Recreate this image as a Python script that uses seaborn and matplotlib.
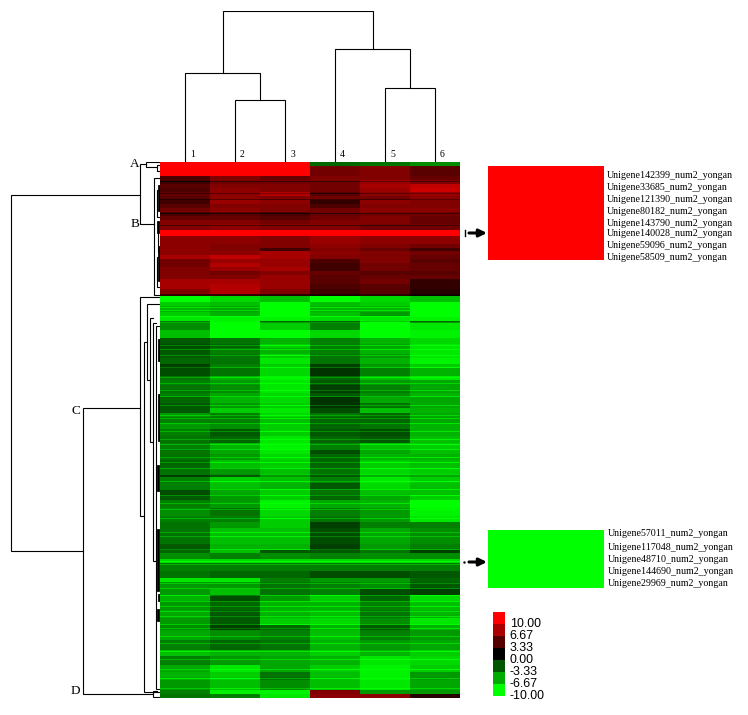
import matplotlib
matplotlib.use("Agg")
import matplotlib.pyplot as plt
import numpy as np
import seaborn as sns

# band = (number of gene rows, values for samples 1-6)
cluster_a = [
    (4, [10, 10, 10, -4, -4.5, -5.5]),
    (10, [10, 10, 10, 4.5, 5, 3.5]),
]
cluster_b = [
    (4, [3, 5, 4, 5, 5, 4]),
    (4, [2.5, 4.5, 4.5, 4.5, 6, 5]),
    (4, [3.5, 5, 5, 4.5, 6.5, 7.5]),
    (4, [3, 5.5, 5, 4.5, 6, 8]),
    (4, [4, 5.5, 7, 3.5, 5.5, 6]),
    (4, [3.5, 5.5, 5, 4.5, 4.5, 5.5]),
    (4, [2.5, 6, 5.5, 2, 5.5, 5]),
    (4, [3.5, 5, 5, 3, 5, 5]),
    (4, [4.5, 5.5, 5, 4.5, 5.5, 5.5]),
    (4, [3, 3.5, 3, 4, 4.5, 4.5]),
    (4, [4, 4, 3.5, 4.5, 5, 4]),
    (4, [5, 5, 4.5, 5, 5, 4]),
    (6, [5, 5.5, 5, 5, 4.5, 4.5]),
    (6, [10, 10, 10, 10, 10, 10]),
    (8, [5.5, 5.5, 5, 6, 5.5, 5.5]),
    (4, [5.5, 5, 5, 5.5, 5, 4.5]),
    (3, [5.5, 5, 2.5, 5, 4, 2.5]),
    (4, [5.5, 5.5, 6.5, 5.5, 5, 4.5]),
    (4, [6.5, 7.5, 6.5, 5, 5, 4]),
    (4, [4.5, 6, 6, 3, 5, 3.5]),
    (4, [4.5, 7, 6, 2.5, 4.5, 4]),
    (4, [5, 6, 6.5, 2.5, 4.5, 4]),
    (4, [5, 4.5, 5, 4, 3.5, 3.5]),
    (4, [5, 5, 6, 3.5, 4, 4]),
    (5, [6.5, 6.5, 6, 3.5, 4.5, 2]),
    (5, [6.5, 7, 6, 3, 3.5, 2]),
    (5, [5, 7, 5, 2.5, 3.5, 1.5]),
    (2, [2, 2, 1.5, 1, 1.5, 0.5]),
]
cluster_c = [
    (6, [-10, -8.5, -7.5, -10, -8.5, -7.5]),
    (4, [-8, -7.5, -10, -7.5, -8, -10]),
    (6, [-7, -6.5, -10, -7, -7, -10]),
    (4, [-8, -7, -10, -7.5, -6, -10]),
    (5, [-9, -9.5, -9.5, -8.5, -9, -9.5]),
    (2, [-5, -9.5, -4, -4, -8, -4]),
    (7, [-5.5, -10, -8, -5, -10, -9]),
    (8, [-7.5, -10, -10, -8.5, -10, -9.5]),
    (6, [-3.5, -4.5, -7, -5, -7, -8.5]),
    (4, [-3, -4, -8, -5, -6.5, -9]),
    (6, [-3.5, -5, -7, -5, -7, -9]),
    (4, [-3.5, -4.5, -8, -4.5, -6, -9]),
    (6, [-4, -4.5, -9, -4.5, -7, -9.5]),
    (4, [-2.5, -5, -8, -2.5, -6, -8]),
    (8, [-3, -4.5, -8.5, -2, -5, -7]),
    (4, [-4.5, -7, -9.5, -4, -7.5, -9]),
    (5, [-5, -6, -9, -3.5, -6, -6.5]),
    (8, [-4.5, -5.5, -9, -2.5, -5, -6.5]),
    (4, [-5, -6.5, -8.5, -3.5, -5.5, -7]),
    (6, [-4, -7, -8.5, -2, -6.5, -6.5]),
    (5, [-3.5, -6, -8, -2, -4.5, -6.5]),
    (5, [-3.5, -8, -9, -3, -7.5, -7]),
    (4, [-6, -5, -8.5, -4.5, -4, -6.5]),
    (6, [-5, -5, -7.5, -4, -4, -6.5]),
    (6, [-6, -5.5, -8, -4, -4.5, -7]),
    (6, [-5, -3.5, -8, -3.5, -3, -7]),
    (7, [-4.5, -4, -9, -4, -3.5, -7.5]),
    (6, [-5, -7, -9.5, -5, -7.5, -8]),
    (5, [-4.5, -6.5, -9, -3, -6.5, -7.5]),
    (6, [-4.5, -6, -8.5, -4, -7, -7]),
    (8, [-4, -7.5, -8, -4, -8, -7.5]),
    (6, [-4.5, -6, -7.5, -4.5, -8.5, -8]),
    (3, [-2.5, -3.5, -6, -3.5, -7, -6.5]),
    (6, [-5, -8, -7.5, -5, -9, -8]),
    (6, [-5, -7.5, -7, -3.5, -8.5, -7.5]),
    (6, [-3, -6.5, -8, -4.5, -7.5, -7.5]),
    (5, [-3.5, -6, -8, -4, -6.5, -8]),
    (8, [-5, -6, -9.5, -6.5, -7, -10]),
    (8, [-5.5, -4.5, -8.5, -5, -6, -9.5]),
    (6, [-5, -5, -8, -4.5, -6, -9]),
    (6, [-4.5, -6, -8, -2.5, -5, -5]),
    (16, [-4.5, -7.5, -7.5, -3, -6.5, -5.5]),
    (6, [-3.5, -7, -7, -2.5, -6, -5]),
    (3, [-4, -7.5, -3.5, -3.5, -4.5, -2.5]),
    (6, [-5.5, -5, -5.5, -5, -5.5, -5.5]),
    (4, [-8.5, -8.5, -8.5, -8.5, -8.5, -8.5]),
    (8, [-5, -5, -5, -5, -5, -5]),
    (7, [-4.5, -4, -4, -3, -3, -3.5]),
    (4, [-9, -9, -5, -6, -6, -4]),
    (7, [-6, -6, -4.5, -5, -5.5, -3.5]),
    (6, [-6, -7.5, -4.5, -5, -3, -2.5]),
    (6, [-7, -3, -6, -8, -4, -8.5]),
    (9, [-6, -4, -7, -7, -5, -7.5]),
    (8, [-6.5, -3.5, -7, -7.5, -4.5, -7]),
    (7, [-6, -3.5, -8, -8.5, -5.5, -9]),
    (5, [-5.5, -2.5, -4, -7, -3.5, -7]),
    (10, [-6.5, -5.5, -5, -7.5, -5, -6]),
    (10, [-5, -4, -4.5, -7, -6, -6.5]),
    (6, [-7.5, -7, -7, -8, -7, -8]),
    (9, [-5, -6, -6.5, -7, -9, -8.5]),
    (7, [-6.5, -9, -6.5, -8, -9.5, -8]),
    (8, [-7, -8, -4.5, -7.5, -9.5, -6]),
    (10, [-6, -7.5, -5.5, -7.5, -9, -6.5]),
]
cluster_d = [
    (4, [-5, -9.5, -9.5, 5, -6, -6]),
    (4, [-4.5, -5, -9, 5.5, 5.5, 1.5]),
]
# single rows that stand out brighter than their band
bright_rows = [19, 31, 37, 51, 63, 145, 148, 154, 160, 183, 187, 193, 205, 215, 221, 228,
               234, 243, 253, 256, 261, 268, 276, 281, 286, 294, 299, 305, 311, 318, 326,
               332, 340, 346, 355, 369, 373, 386, 398, 401, 420, 425, 432, 438, 443, 448,
               453, 461, 465, 473, 480, 488, 496, 506, 515, 525]
sample_names = ["1", "2", "3", "4", "5", "6"]

# column tree: (left, right, height), leaves 0-5, then merged nodes 6+
col_merges = [(1, 2, 62), (0, 6, 89), (4, 5, 74), (3, 8, 113), (7, 9, 151)]

# row tree: (dist, row top, row bottom, dist reached at top, dist reached at bottom)
row_branches = [
    (149, 33, 389, 20, 77),
    (20, 2, 62, 14, 6),
    (14, 0, 5, 0, 3),
    (3, 3, 9, 0, 0),
    (6, 16, 133, 0, 0),
    (3, 28, 55, 0, 0),
    (2, 60, 90, 0, 0),
    (3, 95, 125, 0, 0),
    (77, 246, 532, 20, 7),
    (20, 135, 354, 0, 16),
    (16, 180, 530, 13, 0),
    (13, 142, 218, 0, 10),
    (10, 156, 280, 7, 7),
    (7, 161, 399, 4.5, 4.5),
    (4.5, 164, 527, 0, 0),
    (7, 529, 535, 3, 0),
]
thick_branches = [
    (1.5, 178, 198),
    (1.5, 233, 278),
    (2, 304, 328),
    (2.5, 368, 428),
    (1.5, 433, 438),
    (2, 448, 458),
    (1.5, 24, 48),
    (2, 60, 70),
    (1.5, 85, 118),
]

gene_labels_up = ["Unigene142399_num2_yongan", "Unigene33685_num2_yongan",
                  "Unigene121390_num2_yongan", "Unigene80182_num2_yongan",
                  "Unigene143790_num2_yongan", "Unigene140028_num2_yongan",
                  "Unigene59096_num2_yongan", "Unigene58509_num2_yongan"]
gene_labels_down = ["Unigene57011_num2_yongan", "Unigene117048_num2_yongan",
                    "Unigene48710_num2_yongan", "Unigene144690_num2_yongan",
                    "Unigene29969_num2_yongan"]
legend_values = [10.00, 6.67, 3.33, 0.00, -3.33, -6.67, -10.00]

W, H = 748, 715
serif = "Liberation Serif"
cmap = sns.blend_palette(["#00ff00", "#000000", "#ff0000"], n_colors=256, as_cmap=True)


def place(fig, x0, y0, x1, y1):
    # axes from picture pixels
    return fig.add_axes([x0 / W, 1 - y1 / H, (x1 - x0) / W, (y1 - y0) / H])


bands = cluster_a + cluster_b + cluster_c + cluster_d
counts = [b[0] for b in bands]
matrix = np.repeat(np.array([b[1] for b in bands], dtype=float), counts, axis=0)
matrix[bright_rows] = np.clip(matrix[bright_rows] - 2, -10, 10)

fig = plt.figure(figsize=(W / 100, H / 100), dpi=100)

# main heatmap
ax = place(fig, 160, 162, 460, 698)
sns.heatmap(matrix, ax=ax, cmap=cmap, vmin=-10, vmax=10, cbar=False,
            xticklabels=False, yticklabels=False, rasterized=True)

# column dendrogram
top = place(fig, 160, 11, 460, 162)
top.set_xlim(0, 6)
top.set_ylim(0, 151.5)
top.axis("off")
pos = {i: (i + 0.5, 0) for i in range(6)}
for n, (a, b, h) in enumerate(col_merges):
    xa, ya = pos[a]
    xb, yb = pos[b]
    top.plot([xa, xa, xb, xb], [ya, h, h, yb], color="black", lw=0.8, solid_joinstyle="miter")
    pos[6 + n] = ((xa + xb) / 2, h)
for i, name in enumerate(sample_names):
    top.text(i + 0.65, 8, name, family=serif, fontsize=7, ha="center", va="center")

# row dendrogram
left = place(fig, 0, 162, 160, 698)
left.set_xlim(160, 0)
left.set_ylim(536, 0)
left.axis("off")
for d, r0, r1, d0, d1 in row_branches:
    left.plot([d0, d, d, d1], [r0, r0, r1, r1], color="black", lw=0.8, solid_joinstyle="miter")
for d, r0, r1 in thick_branches:
    left.plot([d, d], [r0, r1], color="black", lw=2)

# enlarged clusters, one colour each
box_up = place(fig, 488, 166, 604, 260)
sns.heatmap(np.full((len(gene_labels_up), 6), 10.0), ax=box_up, cmap=cmap, vmin=-10, vmax=10,
            cbar=False, xticklabels=False, yticklabels=False)
box_down = place(fig, 488, 530, 604, 588)
sns.heatmap(np.full((len(gene_labels_down), 6), -10.0), ax=box_down, cmap=cmap, vmin=-10, vmax=10,
            cbar=False, xticklabels=False, yticklabels=False)

# colour legend
leg = place(fig, 493, 612, 505, 696)
sns.heatmap(np.array(legend_values).reshape(-1, 1), ax=leg, cmap=cmap, vmin=-10, vmax=10,
            cbar=False, xticklabels=False)
leg.yaxis.tick_right()
leg.set_yticks(np.arange(len(legend_values)) + 0.85)
leg.set_yticklabels(["%.2f" % v for v in legend_values], rotation=0,
                    family="Liberation Sans", fontsize=8.9)
leg.tick_params(axis="y", length=0, pad=3.5)

# labels and arrows, in picture pixels
over = place(fig, 0, 0, W, H)
over.set_xlim(0, W)
over.set_ylim(H, 0)
over.axis("off")
over.patch.set_alpha(0)
for s, x, y in [("A", 135, 164), ("B", 135, 224), ("C", 76, 411), ("D", 75, 691)]:
    over.text(x, y, s, family=serif, fontsize=9.5, ha="center", va="center")
for s, y in zip(gene_labels_up, [175, 187, 199, 211, 223, 233, 245, 257]):
    over.text(607, y, s, family=serif, fontsize=7.2, ha="left", va="center")
for s, y in zip(gene_labels_down, [534, 547, 559, 571, 583]):
    over.text(608, y, s, family=serif, fontsize=7.2, ha="left", va="center")
for y in [233, 562]:
    over.annotate("", xy=(487, y), xytext=(469, y),
                  arrowprops=dict(arrowstyle="-|>,head_width=0.22,head_length=0.45",
                                  color="black", lw=2.2, shrinkA=0, shrinkB=0))
over.plot([465, 465], [230, 236], color="black", lw=1)
over.plot([464], [562], marker=".", color="black", ms=1.5)

plt.savefig("out.png", dpi=100)
